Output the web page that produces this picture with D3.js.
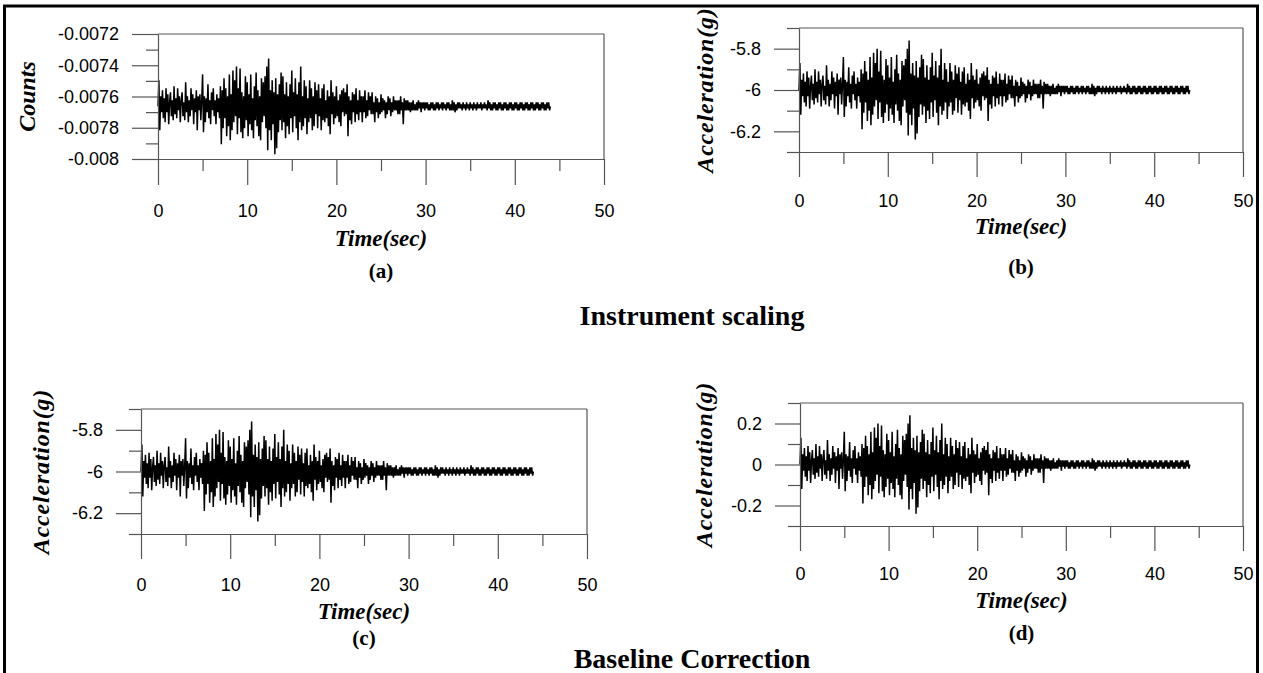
<!DOCTYPE html>
<html>
<head>
<meta charset="utf-8">
<script src="https://cdn.jsdelivr.net/npm/d3@7"></script>
<style>
  html, body { margin: 0; padding: 0; background: #fff; }
  svg { display: block; }
</style>
</head>
<body>
<svg id="chart" width="1263" height="673"></svg>
<script>
// ---------------- DATA ----------------
// sampling interval of the digitised record (s)
const sampleInterval = 0.1;
// baseline-corrected acceleration record (g), panel (d); one value per 0.1 s, 0 .. 44 s
const accelCorrected = [
  0.00, 0.13,-0.12, 0.05,-0.03, 0.08,-0.06, 0.04,-0.08, 0.09,
 -0.03, 0.06,-0.09, 0.02, 0.07,-0.05, 0.03,-0.07, 0.10,-0.04,
  0.04,-0.06, 0.09,-0.02, 0.05,-0.08, 0.03, 0.07,-0.05, 0.02,
 -0.07, 0.12,-0.03, 0.05,-0.08, 0.03,-0.05, 0.09,-0.02, 0.06,
 -0.09, 0.04,-0.03, 0.08,-0.12, 0.05,-0.02, 0.06,-0.07, 0.03,
  0.16,-0.13, 0.05,-0.08, 0.04,-0.03, 0.11,-0.06, 0.03,-0.09,
  0.07,-0.02, 0.09,-0.05, 0.03,-0.09, 0.06,-0.03, 0.04,-0.06,
  0.10,-0.19, 0.08,-0.11, 0.14,-0.06, 0.09,-0.15, 0.05,-0.10,
  0.16,-0.17, 0.06,-0.12, 0.18,-0.08, 0.13,-0.05, 0.20,-0.14,
  0.09,-0.06, 0.19,-0.13, 0.07,-0.16, 0.05,-0.11, 0.15,-0.07,
  0.12,-0.15, 0.06,-0.09, 0.16,-0.12, 0.04,-0.16, 0.10,-0.07,
  0.17,-0.10, 0.08,-0.15, 0.05,-0.17, 0.14,-0.08, 0.12,-0.05,
  0.15,-0.11, 0.20,-0.22, 0.24,-0.12, 0.08,-0.17, 0.13,-0.09,
  0.07,-0.24, 0.14,-0.21, 0.06,-0.13, 0.11,-0.07, 0.17,-0.12,
  0.15,-0.08, 0.06,-0.16, 0.12,-0.10, 0.05,-0.14, 0.11,-0.06,
  0.18,-0.13, 0.07,-0.05, 0.14,-0.11, 0.06,-0.17, 0.12,-0.08,
  0.20,-0.12, 0.05,-0.10, 0.13,-0.06, 0.10,-0.14, 0.04,-0.08,
  0.13,-0.06, 0.09,-0.12, 0.05,-0.10, 0.12,-0.04, 0.08,-0.11,
  0.11,-0.05, 0.04,-0.12, 0.09,-0.07, 0.11,-0.08, 0.03,-0.06,
  0.08,-0.10, 0.05,-0.14, 0.13,-0.04, 0.07,-0.09, 0.05,-0.06,
  0.10,-0.05, 0.03,-0.08, 0.06,-0.10, 0.08,-0.03, 0.09,-0.05,
  0.07,-0.04, 0.11,-0.15, 0.05,-0.07, 0.03,-0.09, 0.07,-0.03,
  0.06,-0.08, 0.09,-0.04, 0.03,-0.07, 0.08,-0.03, 0.05,-0.08,
  0.05,-0.03, 0.08,-0.06, 0.03,-0.05, 0.07,-0.02, 0.05,-0.04,
  0.07,-0.04, 0.02,-0.08, 0.05,-0.03, 0.04,-0.06, 0.02,-0.04,
  0.06,-0.03, 0.04,-0.02, 0.03,-0.06, 0.02,-0.04, 0.05,-0.02,
  0.04,-0.05, 0.02,-0.03, 0.05,-0.02, 0.03,-0.02, 0.03,-0.04,
  0.03,-0.04, 0.05,-0.02, 0.02,-0.09, 0.04,-0.02, 0.03,-0.02,
  0.03,-0.02, 0.02,-0.03, 0.02,-0.02, 0.03,-0.02, 0.01,-0.02,
  0.02,-0.02, 0.03,-0.01, 0.02,-0.03, 0.02,-0.01, 0.02,-0.02,
  0.02,-0.01, 0.02,-0.02, 0.01,-0.02, 0.02,-0.01, 0.02,-0.02,
  0.01,-0.02, 0.02,-0.01, 0.02,-0.02, 0.01,-0.01, 0.02,-0.02,
  0.02,-0.01, 0.01,-0.02, 0.02,-0.01, 0.02,-0.02, 0.01,-0.02,
  0.03,-0.02, 0.02,-0.03, 0.01,-0.02, 0.02,-0.01, 0.02,-0.01,
  0.01,-0.02, 0.02,-0.01, 0.01,-0.02, 0.02,-0.01, 0.01,-0.02,
  0.02,-0.01, 0.01,-0.02, 0.02,-0.01, 0.01,-0.02, 0.02,-0.01,
  0.01,-0.01, 0.02,-0.02, 0.01,-0.01, 0.02,-0.01, 0.01,-0.02,
  0.03,-0.01, 0.02,-0.02, 0.01,-0.02, 0.02,-0.01, 0.02,-0.02,
  0.01,-0.02, 0.02,-0.01, 0.02,-0.02, 0.01,-0.02, 0.02,-0.01,
  0.02,-0.02, 0.01,-0.02, 0.02,-0.01, 0.02,-0.02, 0.01,-0.02,
  0.02,-0.01, 0.02,-0.02, 0.01,-0.02, 0.02,-0.01, 0.02,-0.02,
  0.01,-0.02, 0.02,-0.01, 0.02,-0.02, 0.01,-0.02, 0.02,-0.01,
  0.02,-0.02, 0.01,-0.02, 0.02,-0.01, 0.02,-0.02, 0.01,-0.02,
  0.02,-0.01, 0.02,-0.02, 0.01,-0.02, 0.02,-0.01, 0.02,-0.02,
  0.00
];
// baseline offset of the uncorrected record (g) and instrument gain (g per count)
const baselineOffset = -6.0;
const gPerCount = 783;

// tick values
const timeTicks = [0, 10, 20, 30, 40, 50];
const timeMinorTicks = [5, 15, 25, 35, 45];
const countsTicks = [-0.0072, -0.0074, -0.0076, -0.0078, -0.008];
const countsMinorTicks = [-0.0073, -0.0075, -0.0077, -0.0079];
const rawTicks = [-5.8, -6, -6.2];
const rawMinorTicks = [-5.7, -5.9, -6.1, -6.3];
const corrTicks = [0.2, 0, -0.2];
const corrMinorTicks = [0.3, 0.1, -0.1, -0.3];

// texts
const panelLetters = ["(a)", "(b)", "(c)", "(d)"];
const yTitles = ["Counts", "Acceleration(g)", "Acceleration(g)", "Acceleration(g)"];
const xTitle = "Time(sec)";
const sectionTitles = ["Instrument scaling", "Baseline Correction"];

// series per panel
const seriesCounts = accelCorrected.map(v => (v + baselineOffset) / gPerCount);
const seriesRaw = accelCorrected.map(v => v + baselineOffset);
const seriesCorr = accelCorrected;

// ---------------- LAYOUT ----------------
const panels = [
  { x0: 158, x1: 604, yTop: 34,  yBot: 159, dom: [-0.008, -0.0072], ticks: countsTicks, minor: countsMinorTicks,
    values: seriesCounts, majorLen: 26, xLabY: 217, titleY: 246, letterY: 278, yTitleX: 27, ls: 0 },
  { x0: 799, x1: 1243, yTop: 28, yBot: 152, dom: [-6.3, -5.7], ticks: rawTicks, minor: rawMinorTicks,
    values: seriesRaw, majorLen: 25, xLabY: 207, titleY: 234, letterY: 274, yTitleX: 705, ls: 0.8 },
  { x0: 141, x1: 587, yTop: 409, yBot: 534, dom: [-6.3, -5.7], ticks: rawTicks, minor: rawMinorTicks,
    values: seriesRaw, majorLen: 25, xLabY: 591, titleY: 619, letterY: 645, yTitleX: 41, ls: 0.8 },
  { x0: 800, x1: 1243, yTop: 403, yBot: 526, dom: [-0.3, 0.3], ticks: corrTicks, minor: corrMinorTicks,
    values: seriesCorr, majorLen: 25, xLabY: 580, titleY: 608, letterY: 640, yTitleX: 704, ls: 0.8 }
];

const axisColor = "#555";
const svg = d3.select("#chart");
svg.append("rect").attr("width", 1263).attr("height", 673).attr("fill", "#fff");

// outer frame (bottom edge lies outside the picture)
svg.append("rect")
  .attr("x", 4.5).attr("y", 6).attr("width", 1253).attr("height", 700)
  .attr("fill", "none").attr("stroke", "#000").attr("stroke-width", 3);

panels.forEach((p, k) => {
  const x = d3.scaleLinear().domain([0, 50]).range([p.x0, p.x1]);
  const y = d3.scaleLinear().domain(p.dom).range([p.yBot, p.yTop]);
  const g = svg.append("g");

  // top and right frame of the plot
  g.append("line").attr("x1", p.x0).attr("x2", p.x1).attr("y1", p.yTop).attr("y2", p.yTop)
    .attr("stroke", axisColor).attr("stroke-width", 1.2);
  g.append("line").attr("x1", p.x1).attr("x2", p.x1).attr("y1", p.yTop).attr("y2", p.yBot)
    .attr("stroke", axisColor).attr("stroke-width", 1.2);

  // trace
  const line = d3.line().x((d, i) => x(i * sampleInterval)).y(d => y(d));
  g.append("path").datum(p.values)
    .attr("d", line).attr("fill", "none").attr("stroke", "#000")
    .attr("stroke-width", 1.5).attr("stroke-linejoin", "miter").attr("stroke-miterlimit", 2);

  // x axis: major ticks with labels, minor ticks
  const xMajor = d3.axisBottom(x).tickValues(timeTicks).tickSize(p.majorLen).tickSizeOuter(0)
    .tickPadding(0).tickFormat(d3.format("d"));
  const gx = g.append("g").attr("transform", `translate(0,${p.yBot})`).call(xMajor);
  gx.selectAll("text").attr("y", p.xLabY - p.yBot).attr("dy", 0);
  const xMinor = d3.axisBottom(x).tickValues(timeMinorTicks).tickSize(12).tickSizeOuter(0).tickFormat("");
  const gxm = g.append("g").attr("transform", `translate(0,${p.yBot})`).call(xMinor);
  gxm.select(".domain").remove();

  // y axis: labelled ticks and unlabelled ticks
  const yMajor = d3.axisLeft(y).tickValues(p.ticks).tickSize(p.majorLen).tickSizeOuter(0)
    .tickPadding(13).tickFormat(d => String(d));
  const gy = g.append("g").attr("transform", `translate(${p.x0},0)`).call(yMajor);
  const yMinor = d3.axisLeft(y).tickValues(p.minor).tickSize(12).tickSizeOuter(0).tickFormat("");
  const gym = g.append("g").attr("transform", `translate(${p.x0},0)`).call(yMinor);
  gym.select(".domain").remove();

  [gx, gxm, gy, gym].forEach(a => {
    a.selectAll("path,line").attr("stroke", axisColor).attr("stroke-width", 1.2);
    a.selectAll("text").attr("font-family", "Liberation Sans, Arial, sans-serif")
      .attr("font-size", 18).attr("fill", "#000");
  });

  // axis titles
  g.append("text").attr("x", (p.x0 + p.x1) / 2).attr("y", p.titleY)
    .attr("text-anchor", "middle")
    .attr("font-family", "Liberation Serif, Times New Roman, serif")
    .attr("font-style", "italic").attr("font-weight", "bold").attr("font-size", 23)
    .text(xTitle);
  g.append("text")
    .attr("transform", `translate(${p.yTitleX},${(p.yTop + p.yBot) / 2}) rotate(-90)`)
    .attr("text-anchor", "middle").attr("dominant-baseline", "central")
    .attr("font-family", "Liberation Serif, Times New Roman, serif")
    .attr("font-style", "italic").attr("font-weight", "bold").attr("font-size", 24)
    .attr("letter-spacing", p.ls)
    .text(yTitles[k]);
  g.append("text").attr("x", (p.x0 + p.x1) / 2).attr("y", p.letterY)
    .attr("text-anchor", "middle")
    .attr("font-family", "Liberation Serif, Times New Roman, serif")
    .attr("font-weight", "bold").attr("font-size", 21)
    .text(panelLetters[k]);
});

// section titles
[[325, 0], [668, 1]].forEach(([yy, i]) => {
  svg.append("text").attr("x", 692).attr("y", yy).attr("text-anchor", "middle")
    .attr("font-family", "Liberation Serif, Times New Roman, serif")
    .attr("font-weight", "bold").attr("font-size", 28)
    .text(sectionTitles[i]);
});
</script>
</body>
</html>
